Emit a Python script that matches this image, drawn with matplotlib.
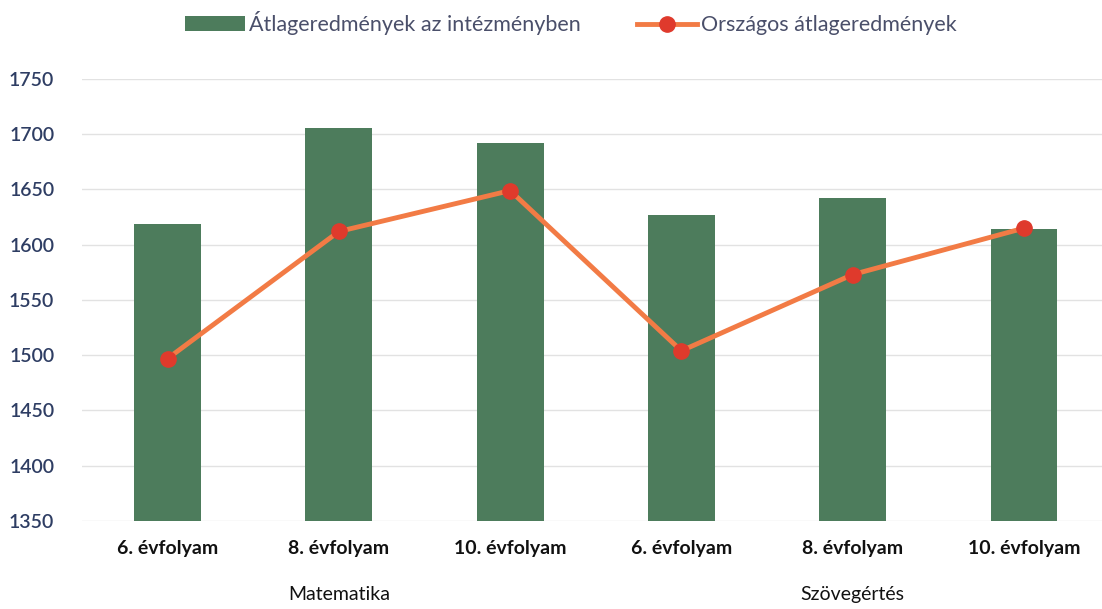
import matplotlib.pyplot as plt
from matplotlib.lines import Line2D
from matplotlib.patches import Patch

plt.rcParams['font.family'] = ['Lato', 'DejaVu Sans']

categories = ['6. évfolyam', '8. évfolyam', '10. évfolyam',
              '6. évfolyam', '8. évfolyam', '10. évfolyam']
groups = ['Matematika', 'Szövegértés']
school_avg = [1619, 1706, 1692, 1627, 1642, 1614]
national_avg = [1497, 1612, 1649, 1504, 1573, 1615]
yticks = [1350, 1400, 1450, 1500, 1550, 1600, 1650, 1700, 1750]

bar_color = '#4d7c5c'
line_color = '#f27b45'
marker_color = '#df3a2c'

fig = plt.figure(figsize=(11.02, 6.09), dpi=100)
ax = fig.add_axes([0.0744, 0.1445, 0.9256, 0.7258])

x = list(range(len(categories)))
ax.bar(x, [v - 1350 for v in school_avg], bottom=1350, width=0.39,
       color=bar_color, zorder=2)
ax.plot(x, national_avg, color=line_color, lw=3.5, zorder=3,
        marker='o', markersize=11, markerfacecolor=marker_color,
        markeredgecolor=marker_color)

ax.set_ylim(1350, 1750)
ax.set_xlim(-0.5, 5.456)
ax.set_yticks(yticks)
ax.grid(axis='y', color='#e2e2e2', lw=1)
ax.set_axisbelow(True)
for s in ax.spines.values():
    s.set_visible(False)
ax.tick_params(length=0)
ax.tick_params(axis='y', labelsize=14, colors='#2e3d63', pad=20)
for lbl in ax.get_yticklabels():
    lbl.set_fontweight('semibold')
ax.set_xticks(x)
ax.set_xticklabels(categories, fontsize=14, fontweight='bold', color='#111111')
ax.tick_params(axis='x', pad=14)

# group labels under the middle bar of each group
for i, g in enumerate(groups):
    ax.text(1 + 3 * i, -0.167, g, transform=ax.get_xaxis_transform(),
            ha='center', va='center', fontsize=14, color='#111111')

handles = [Patch(facecolor=bar_color),
           Line2D([0], [0], color=line_color, lw=3.5, marker='o',
                  markersize=11, markerfacecolor=marker_color,
                  markeredgecolor=marker_color)]
fig.legend(handles, ['Átlageredmények az intézményben', 'Országos átlageredmények'],
           loc='center', bbox_to_anchor=(0.518, 0.962), ncol=2, frameon=False,
           fontsize=15.5, labelcolor='#4a4f6a', handlelength=2.8,
           handletextpad=0.2, columnspacing=2.6)

fig.savefig('out.png', dpi=100)
